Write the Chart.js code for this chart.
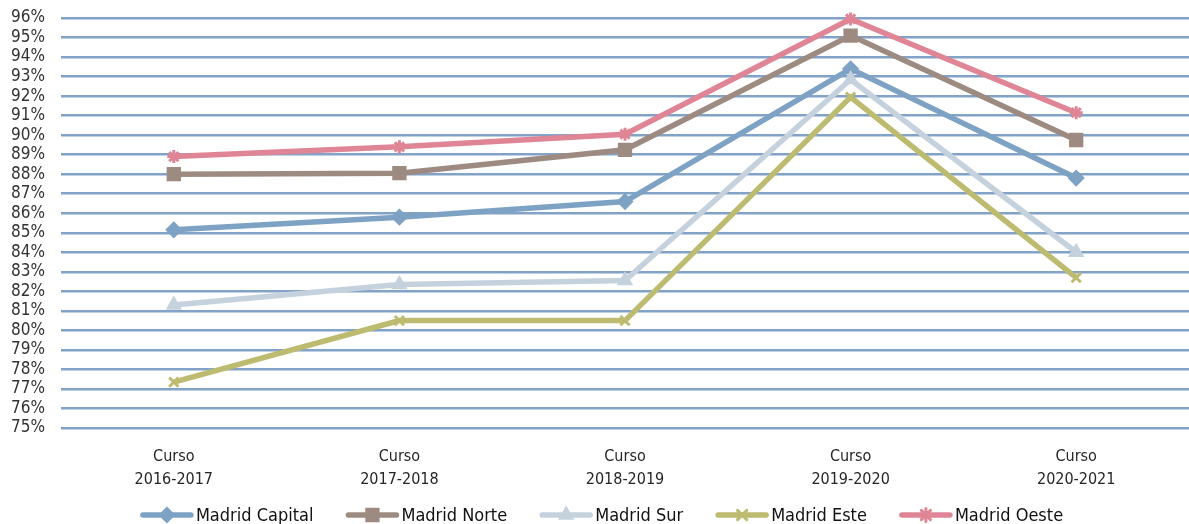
<!DOCTYPE html>
<html>
<head>
<meta charset="utf-8">
<script src="https://cdn.jsdelivr.net/npm/chart.js@4"></script>
<style>
  html, body { margin: 0; padding: 0; background: #fff; overflow: hidden; }
  #wrap { width: 1189px; height: 524px; }
</style>
</head>
<body>
<div id="wrap"><canvas id="grafico" width="1189" height="524"></canvas></div>
<script>
// datos (porcentaje)
const cursos = [['Curso', '2016-2017'], ['Curso', '2017-2018'], ['Curso', '2018-2019'], ['Curso', '2019-2020'], ['Curso', '2020-2021']];
const madridCapital = [85.15, 85.8, 86.6, 93.4, 87.8];
const madridNorte = [88.0, 88.05, 89.25, 95.1, 89.75];
const madridSur = [81.3, 82.35, 82.55, 92.85, 84.0];
const madridEste = [77.35, 80.5, 80.5, 91.95, 82.7];
const madridOeste = [88.9, 89.4, 90.05, 95.95, 91.15];

const EJE_MIN = 75;
const EJE_MAX = 96;

const FUENTE = '"DejaVu Sans Condensed", "Liberation Sans Narrow", Arial, sans-serif';

const series = [
  { nombre: 'Madrid Capital', datos: madridCapital, color: '#7ea2c4', punto: 'rectRot', radio: 6.5 },
  { nombre: 'Madrid Norte', datos: madridNorte, color: '#9d8b82', punto: 'rect', radio: 8 },
  { nombre: 'Madrid Sur', datos: madridSur, color: '#c5d2de', punto: 'triangle', radio: 6.5 },
  { nombre: 'Madrid Este', datos: madridEste, color: '#bdbb70', punto: 'crossRot', radio: 6.5 },
  { nombre: 'Madrid Oeste', datos: madridOeste, color: '#e08596', punto: 'star', radio: 6.5 }
];

// leyenda propia: linea gruesa con el marcador encima
const leyendaLineas = {
  id: 'leyendaLineas',
  afterDraw(chart) {
    const ctx = chart.ctx;
    const largoLinea = 52;
    const hueco = 3;
    const separacion = 33;
    const y = 515;
    ctx.save();
    ctx.font = '18px ' + FUENTE;
    let total = 0;
    const anchos = series.map(s => ctx.measureText(s.nombre).width);
    anchos.forEach(a => { total += largoLinea + hueco + a; });
    total += separacion * (series.length - 1);
    let x = 602 - total / 2;
    series.forEach((s, i) => {
      ctx.strokeStyle = s.color;
      ctx.lineWidth = 5.5;
      ctx.lineCap = 'round';
      ctx.beginPath();
      ctx.moveTo(x + 2, y);
      ctx.lineTo(x + largoLinea - 2, y);
      ctx.stroke();
      ctx.fillStyle = s.color;
      ctx.lineWidth = 3;
      Chart.helpers.drawPoint(ctx, { pointStyle: s.punto, radius: s.radio, rotation: 0, borderWidth: 3 }, x + largoLinea / 2, y);
      ctx.fillStyle = '#111111';
      ctx.textBaseline = 'middle';
      ctx.textAlign = 'left';
      ctx.fillText(s.nombre, x + largoLinea + hueco, y + 1);
      x += largoLinea + hueco + anchos[i] + separacion;
    });
    ctx.restore();
  }
};

const ctx = document.getElementById('grafico').getContext('2d');
new Chart(ctx, {
  type: 'line',
  data: {
    labels: cursos,
    datasets: series.map((s, i) => ({
      label: s.nombre,
      data: s.datos,
      borderColor: s.color,
      backgroundColor: s.color,
      borderWidth: 5.5,
      pointStyle: s.punto,
      pointRadius: s.radio,
      pointBorderWidth: 3,
      pointBackgroundColor: s.color,
      pointBorderColor: s.color,
      tension: 0,
      clip: false,
      order: series.length - 1 - i
    }))
  },
  options: {
    responsive: false,
    animation: false,
    layout: { autoPadding: false, padding: { top: 18, right: -3, bottom: 34, left: 11 } },
    plugins: {
      legend: { display: false },
      tooltip: { enabled: false }
    },
    scales: {
      x: {
        offset: true,
        grid: { display: false, drawTicks: false },
        border: { display: false },
        ticks: {
          color: '#262626',
          font: { family: FUENTE, size: 16, lineHeight: 1.4 },
          padding: 18,
          maxRotation: 0
        },
        afterFit(scale) { scale.height = 62; }
      },
      y: {
        min: EJE_MIN,
        max: EJE_MAX,
        border: { display: false },
        grid: { color: '#82a2c7', lineWidth: 2.5, drawTicks: false },
        ticks: {
          stepSize: 1,
          autoSkip: false,
          color: '#333333',
          font: { family: FUENTE, size: 17 },
          padding: 0,
          crossAlign: 'far',
          callback: v => v + '%'
        },
        afterFit(scale) { scale.width = 50; }
      }
    }
  },
  plugins: [leyendaLineas]
});
</script>
</body>
</html>
